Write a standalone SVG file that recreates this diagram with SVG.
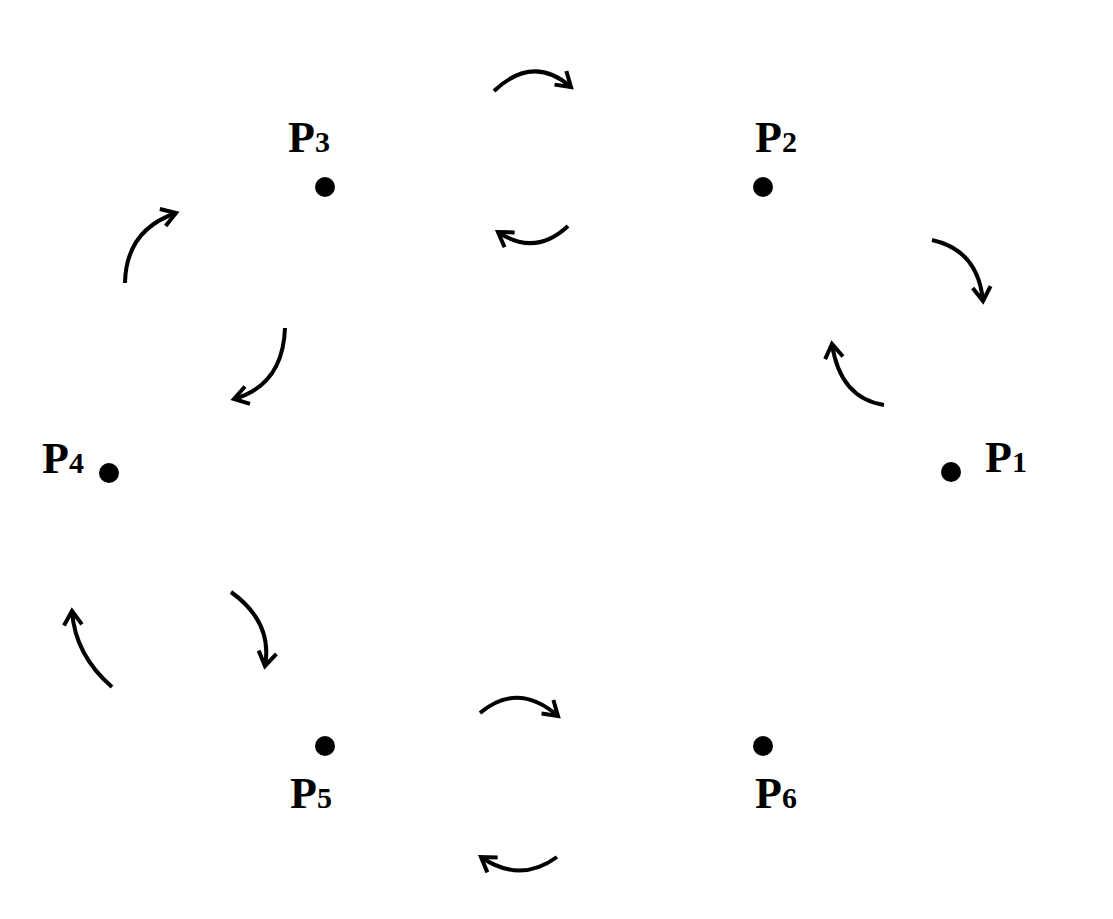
<svg xmlns="http://www.w3.org/2000/svg" width="1113" height="919" viewBox="0 0 1113 919">
<style>
.lbl{font-family:"Liberation Serif","Times New Roman",serif;font-weight:bold;font-size:44px;fill:#000}
.sub{font-size:30px}
.dot{fill:#000}
.arr{fill:none;stroke:#000;stroke-width:4;stroke-linecap:butt;marker-end:url(#ah)}
</style>
<defs>
<marker id="ah" markerUnits="userSpaceOnUse" viewBox="-20 -13 24 26" markerWidth="24" markerHeight="26" refX="0" refY="0" orient="auto">
<path d="M-14,-9 L0,0 L-14,9" fill="none" stroke="#000" stroke-width="4" stroke-linejoin="miter"/>
</marker>
</defs>
<rect width="1113" height="919" fill="#fff"/>
<g id="P1"><circle class="dot" cx="951" cy="472" r="10"/><text class="lbl" x="985" y="472">P<tspan class="sub">1</tspan></text></g>
<g id="P2"><circle class="dot" cx="763" cy="187" r="10"/><text class="lbl" x="755" y="152">P<tspan class="sub">2</tspan></text></g>
<g id="P3"><circle class="dot" cx="325" cy="187" r="10"/><text class="lbl" x="288" y="152">P<tspan class="sub">3</tspan></text></g>
<g id="P4"><circle class="dot" cx="109" cy="473" r="10"/><text class="lbl" x="42" y="473">P<tspan class="sub">4</tspan></text></g>
<g id="P5"><circle class="dot" cx="325" cy="746" r="10"/><text class="lbl" x="290" y="808">P<tspan class="sub">5</tspan></text></g>
<g id="P6"><circle class="dot" cx="763" cy="746" r="10"/><text class="lbl" x="755" y="808">P<tspan class="sub">6</tspan></text></g>
<g id="connectors">
<path class="arr" d="M494,91 Q533,54 571,87"/>
<path class="arr" d="M568,226 Q535,257 498,232"/>
<path class="arr" d="M125,283 Q126,230 176,213"/>
<path class="arr" d="M285,328 Q283,385 234,399"/>
<path class="arr" d="M932,240 Q978,250 983,301"/>
<path class="arr" d="M884,405 Q840,398 832,344"/>
<path class="arr" d="M231,592 Q273,622 265,666"/>
<path class="arr" d="M112,687 Q75,655 72,611"/>
<path class="arr" d="M480,713 Q518,681 558,716"/>
<path class="arr" d="M557,857 Q520,884 481,857"/>
</g>
</svg>
